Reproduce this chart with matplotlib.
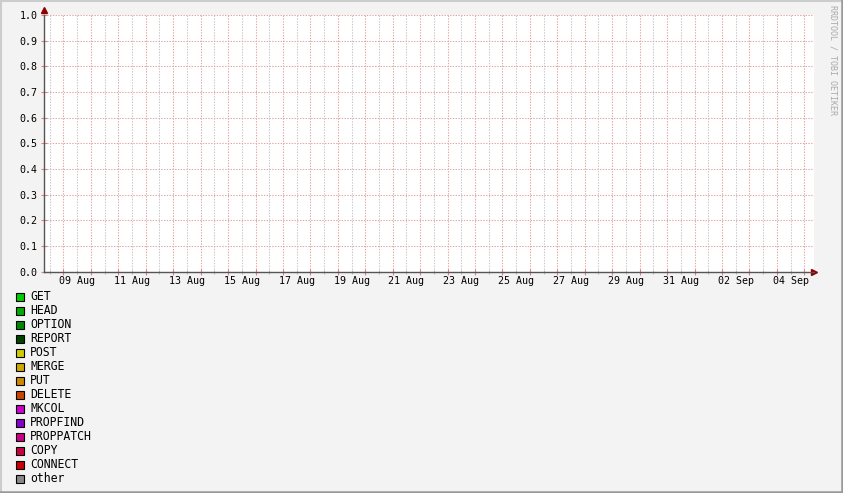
import datetime as dt
import matplotlib
matplotlib.use("Agg")
import matplotlib.pyplot as plt
import matplotlib.dates as mdates
from matplotlib.patches import Rectangle
from matplotlib.lines import Line2D

W, H = 843, 493
DPI = 100

# legend entries (rrdtool stack, no data in the window)
names = ["GET", "HEAD", "OPTION", "REPORT", "POST", "MERGE", "PUT", "DELETE",
         "MKCOL", "PROPFIND", "PROPPATCH", "COPY", "CONNECT", "other"]
colors = ["#00CC00", "#00AA00", "#008800", "#004400", "#CCCC00", "#CCAA00",
          "#CC8800", "#CC4400", "#CC00CC", "#8800CC", "#CC0088", "#CC0044",
          "#CC0000", "#888888"]

x_start = dt.datetime(2007, 8, 8, 7, 0)
x_end = dt.datetime(2007, 9, 5, 8, 30)
label_dates = ["2007-08-09", "2007-08-11", "2007-08-13", "2007-08-15",
               "2007-08-17", "2007-08-19", "2007-08-21", "2007-08-23",
               "2007-08-25", "2007-08-27", "2007-08-29", "2007-08-31",
               "2007-09-02", "2007-09-04"]
label_texts = ["09 Aug", "11 Aug", "13 Aug", "15 Aug", "17 Aug", "19 Aug",
               "21 Aug", "23 Aug", "25 Aug", "27 Aug", "29 Aug", "31 Aug",
               "02 Sep", "04 Sep"]
y_ticks = [0.0, 0.1, 0.2, 0.3, 0.4, 0.5, 0.6, 0.7, 0.8, 0.9, 1.0]

mono = "DejaVu Sans Mono"
grid_red = "#E6A6A6"
grid_grey = "#C8C8C8"
arrow_col = "#8B0000"
plt.rcParams["lines.scale_dashes"] = False


def fx(px):
    return px / W


def fy(py):
    return 1 - py / H


fig = plt.figure(figsize=(W / DPI, H / DPI), dpi=DPI, facecolor="#F3F3F3")
ax = fig.add_axes([fx(44), fy(271.5), fx(814) - fx(44), fy(15) - fy(271.5)])
ax.set_facecolor("white")
ax.set_xlim(x_start, x_end)
ax.set_ylim(0, 1)

ax.xaxis.set_major_locator(mdates.DayLocator())
ax.xaxis.set_minor_locator(mdates.HourLocator(byhour=[12]))
ax.xaxis.set_major_formatter(plt.NullFormatter())
ax.set_yticks(y_ticks)
ax.set_yticklabels(["%.1f" % v for v in y_ticks], fontfamily=mono, fontsize=7.2)

dots = dict(linestyle=(0, (1.0, 1.0)), lw=0.75)
ax.grid(which="major", axis="x", color=grid_red, **dots)
ax.grid(which="minor", axis="x", color=grid_grey, **dots)
ax.grid(which="major", axis="y", color=grid_red, **dots)
ax.set_axisbelow(True)

ax.tick_params(axis="x", which="major", direction="inout", length=4, color="#E08080", width=0.8)
ax.tick_params(axis="x", which="minor", direction="inout", length=3, color="#BBBBBB", width=0.8)
ax.tick_params(axis="y", which="major", direction="inout", length=4, color="#E08080",
               width=0.8, pad=2.5)

for s in ["top", "right"]:
    ax.spines[s].set_visible(False)
for s in ["left", "bottom"]:
    ax.spines[s].set_color("#555555")
    ax.spines[s].set_linewidth(1)

# axis arrows
ax.plot([x_end], [0], marker=">", color=arrow_col, ms=4, clip_on=False,
        transform=ax.transData)
ax.plot([0], [1.02], marker="^", color=arrow_col, ms=4, clip_on=False,
        transform=ax.get_yaxis_transform())

# x labels centred on midday
for d, t in zip(label_dates, label_texts):
    xd = dt.datetime.strptime(d, "%Y-%m-%d") + dt.timedelta(hours=12)
    ax.text(xd, -0.038, t, ha="center", va="center", fontfamily=mono,
            fontsize=7.2, transform=ax.get_xaxis_transform())

# legend
for i, (n, c) in enumerate(zip(names, colors)):
    yc = 297 + 14 * i
    fig.add_artist(Rectangle((fx(15.5), fy(yc + 4)), fx(8), 8 / H, facecolor=c,
                             edgecolor="black", lw=0.8, transform=fig.transFigure))
    fig.text(fx(30), fy(yc), n, fontfamily=mono, fontsize=8.3, va="center", ha="left")

# watermark
fig.text(fx(833), fy(5), "RRDTOOL / TOBI OETIKER", rotation=270, ha="center",
         va="top", fontfamily=mono, fontsize=6.0, color="#AAAAAA")

# frame
fig.add_artist(Line2D([0, 1], [fy(0.5), fy(0.5)], color="#CCCCCC", lw=1.5))
fig.add_artist(Line2D([fx(0.5), fx(0.5)], [0, 1], color="#CCCCCC", lw=1.5))
fig.add_artist(Line2D([0, 1], [fy(492), fy(492)], color="#999999", lw=1.8))
fig.add_artist(Line2D([fx(842), fx(842)], [0, 1], color="#999999", lw=1.8))

fig.savefig("out.png", dpi=DPI, facecolor=fig.get_facecolor())
